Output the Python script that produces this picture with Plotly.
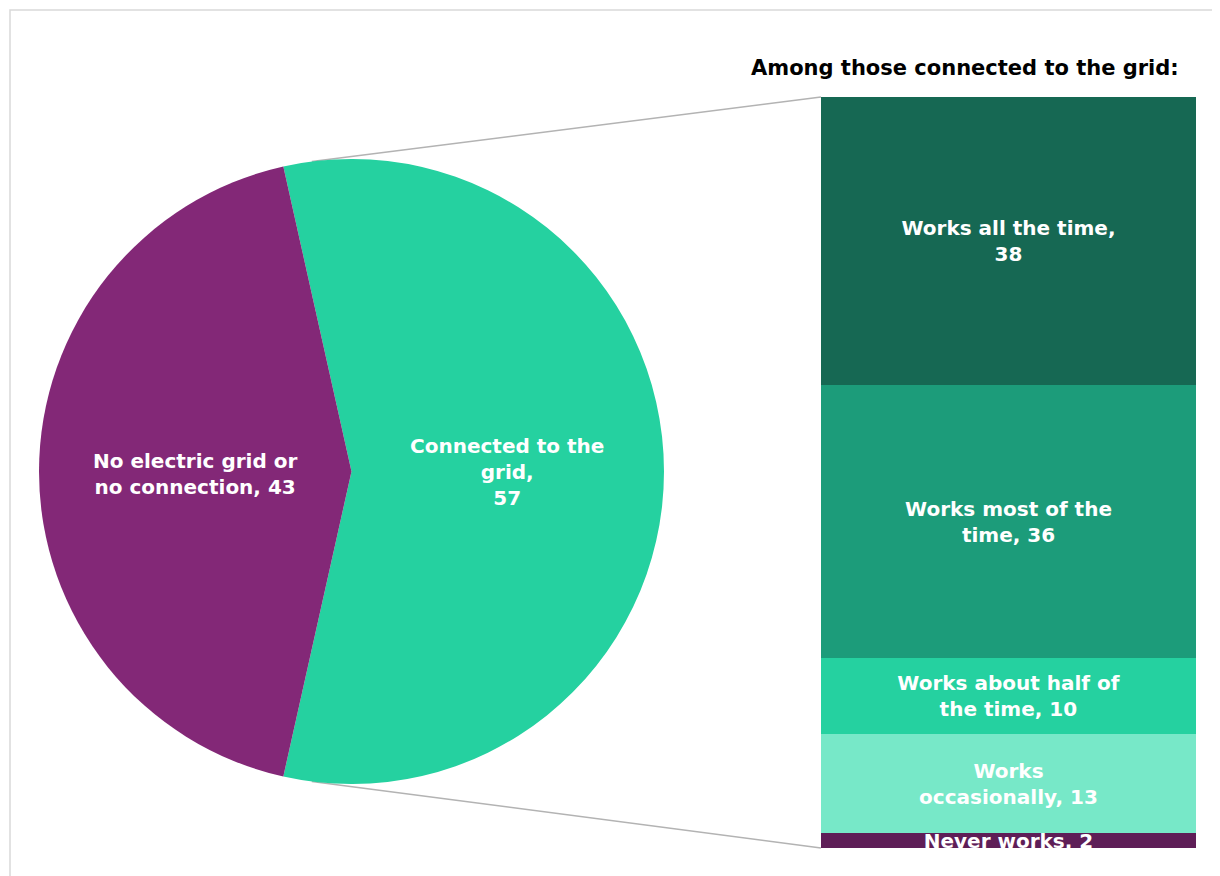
import math
import plotly.graph_objects as go

# ---------------- data ----------------
pie_labels = ["Connected to the grid", "No electric grid or no connection"]
pie_values = [57, 43]
pie_text = ["Connected to the<br>grid,<br>57", "No electric grid or<br>no connection, 43"]

bar_labels = ["Never works", "Works occasionally", "Works about half of the time",
              "Works most of the time", "Works all the time"]
bar_values = [2, 13, 10, 36, 38]
bar_text = ["Never works, 2", "Works<br>occasionally, 13", "Works about half of<br>the time, 10",
            "Works most of the<br>time, 36", "Works all the time,<br>38"]

title_text = "Among those connected to the grid:"

# ---------------- styling ----------------
W, H = 1220, 876
OFF = 8  # page body margin
pie_colors = ["#25D1A0", "#832877"]
bar_colors = ["#5E1E57", "#77E8C8", "#25D1A0", "#1C9C7A", "#166853"]
FONT = "DejaVu Sans"
FS = 20


def fx(p):
    return (p - OFF) / W


def fy(p):
    return 1 - (p - OFF) / H


pie_box = (39, 159, 664, 784)  # left, top, right, bottom in screen px
bar_box = (821, 97, 1196, 848)
cx = (pie_box[0] + pie_box[2]) / 2
cy = (pie_box[1] + pie_box[3]) / 2
R = (pie_box[2] - pie_box[0]) / 2

# rotate so the connected slice is centred on 3 o'clock
rotation = 90 - pie_values[0] / sum(pie_values) * 360 / 2

fig = go.Figure()
fig.add_trace(go.Pie(
    labels=pie_labels, values=pie_values, sort=False, direction="clockwise",
    rotation=rotation, textinfo="none", hoverinfo="label+value",
    marker=dict(colors=pie_colors, line=dict(width=0)),
    domain=dict(x=[fx(pie_box[0]), fx(pie_box[2])], y=[fy(pie_box[3]), fy(pie_box[1])]),
    showlegend=False,
))

for lab, val, txt, col in zip(bar_labels, bar_values, bar_text, bar_colors):
    fig.add_trace(go.Bar(
        x=[0], y=[val], name=lab, marker=dict(color=col, line=dict(width=0)),
        text=[txt], textposition="inside", insidetextanchor="middle",
        textangle=0, cliponaxis=True,
        textfont=dict(family=FONT, size=FS, color="white", weight="bold"),
        showlegend=False, hoverinfo="name+y",
    ))

total = sum(bar_values)
fig.update_layout(
    width=W, height=H, margin=dict(l=0, r=0, t=0, b=0),
    paper_bgcolor="white", plot_bgcolor="white",
    barmode="stack", bargap=0,
    uniformtext=dict(minsize=FS, mode="show"),
    xaxis=dict(domain=[fx(bar_box[0]), fx(bar_box[2])], range=[-0.5, 0.5],
               visible=False, fixedrange=True),
    yaxis=dict(domain=[fy(bar_box[3]), fy(bar_box[1])], range=[0, total],
               visible=False, fixedrange=True),
)

# pie labels
ann_pos = [(507, 472), (195, 474)]
for txt, (ax_, ay_) in zip(pie_text, ann_pos):
    fig.add_annotation(x=fx(ax_), y=fy(ay_), xref="paper", yref="paper",
                       xanchor="center", yanchor="middle",
                       text=txt, showarrow=False, align="center",
                       font=dict(family=FONT, size=FS, color="white", weight="bold"))

fig.add_annotation(x=fx(965), y=fy(68), xref="paper", yref="paper", text=title_text,
                   xanchor="center", yanchor="middle", showarrow=False,
                   font=dict(family=FONT, size=21, color="black", weight="bold"))

# connector lines from pie edge to bar corners
off = 7.3 * math.pi / 180
for sgn, by in ((-1, bar_box[1]), (1, bar_box[3])):
    px0 = cx - R * math.sin(off)
    py0 = cy + sgn * R * math.cos(off)
    fig.add_shape(type="line", xref="paper", yref="paper",
                  x0=fx(px0), y0=fy(py0), x1=fx(bar_box[0]), y1=fy(by),
                  line=dict(color="#B3B3B3", width=1.5), layer="below")

# outer frame
fig.add_shape(type="rect", xref="paper", yref="paper",
              x0=fx(10), y0=fy(H + 30), x1=fx(W + 30), y1=fy(10),
              line=dict(color="#D9D9D9", width=1.5), fillcolor="rgba(0,0,0,0)", layer="below")

fig.write_html("out.html")
